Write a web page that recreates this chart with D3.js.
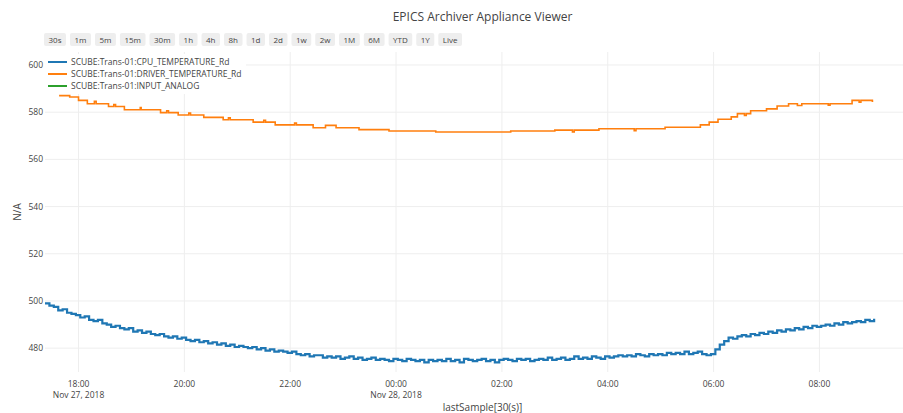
<!DOCTYPE html>
<html>
<head>
<meta charset="utf-8">
<script src="https://cdn.jsdelivr.net/npm/d3@7"></script>
<style>
  body { margin: 0; background: #fff; }
  svg { display: block; font-family: "Open Sans", verdana, arial, sans-serif; }
</style>
</head>
<body>
<script>
// ---- data ----
const chartTitle = "EPICS Archiver Appliance Viewer"
const buttons = ["30s","1m","5m","15m","30m","1h","4h","8h","1d","2d","1w","2w","1M","6M","YTD","1Y","Live"]
const seriesNames = ["SCUBE:Trans-01:CPU_TEMPERATURE_Rd","SCUBE:Trans-01:DRIVER_TEMPERATURE_Rd","SCUBE:Trans-01:INPUT_ANALOG"]
const seriesColors = ["#1f77b4","#ff7f0e","#2ca02c"]
const yTicks = [480,500,520,540,560,580,600]
const xTicks = ["2018-11-27T18:00","2018-11-27T20:00","2018-11-27T22:00","2018-11-28T00:00","2018-11-28T02:00","2018-11-28T04:00","2018-11-28T06:00","2018-11-28T08:00"]

// CPU temperature, one sample every 5 minutes from 17:22
const cpuStart = "2018-11-27T17:22"
const cpuStepMin = 5
const cpuValues = [
  499,498,497.5,496,496.5,495,494.5,494,
  493,493.5,492,491.5,492,490.5,490,489,489.5,488.5,488,488.5,
  487,487.5,486.5,487,486,485.5,486,485,484.5,485,484,484.5,
  483.5,483,483.5,482.5,483,482,482.5,481.5,482,481,481.5,480.5,
  481,480.5,480,480.5,479.5,480,479,479.5,478.5,479,478.5,478,
  478.5,477.5,477,477.5,476.5,477,477,476,476.5,476,476.5,475.5,
  476,476.5,475.5,476,475,475.5,476,475,475.5,475,474.5,475.5,
  475,474.5,475.5,475,474.5,475,474,475,474.5,475,474.5,475.5,
  474.5,475,474,475.5,475,474.5,475,475.5,474.5,475,474,475,
  475.5,475,474.5,475.5,475,475.5,474.5,475,475.5,475,476,475,
  475.5,476,475,475.5,476.5,475.5,476,475.5,476.5,476,475.5,476.5,
  476,476.5,477,476.5,477,476.5,477.5,477,476.5,477.5,477,477.5,
  477,478,477.5,478,477.5,478.5,477.5,478,478.5,477.5,477,477.5,
  479.5,481.5,483,484.5,484,485,485.5,485,486,485.5,486.5,486,
  487,486.5,487.5,487,488,487.5,488.5,488,489,488.5,489.5,489,
  489.5,490,489.5,490.5,490,491,490.5,491,491.5,491,492,491.5,
  492.5
]

// driver temperature, value changes (step)
const drvTimes = [
  "2018-11-27T17:38","2018-11-27T17:50","2018-11-27T18:00","2018-11-27T18:10","2018-11-27T18:18","2018-11-27T18:20",
  "2018-11-27T18:34","2018-11-27T18:40","2018-11-27T18:42","2018-11-27T18:52","2018-11-27T19:10","2018-11-27T19:11",
  "2018-11-27T19:33","2018-11-27T19:40","2018-11-27T19:42","2018-11-27T19:53","2018-11-27T20:05","2018-11-27T20:07",
  "2018-11-27T20:22","2018-11-27T20:44","2018-11-27T20:50","2018-11-27T20:52","2018-11-27T21:18","2018-11-27T21:30",
  "2018-11-27T21:32","2018-11-27T21:43","2018-11-27T22:05","2018-11-27T22:07","2018-11-27T22:26","2018-11-27T22:40",
  "2018-11-27T22:52","2018-11-27T23:18","2018-11-27T23:52","2018-11-28T00:45","2018-11-28T02:10","2018-11-28T03:00",
  "2018-11-28T03:20","2018-11-28T03:22","2018-11-28T03:50","2018-11-28T04:30","2018-11-28T04:32","2018-11-28T05:05",
  "2018-11-28T05:45","2018-11-28T05:55","2018-11-28T06:05","2018-11-28T06:20","2018-11-28T06:27","2018-11-28T06:35",
  "2018-11-28T06:37","2018-11-28T06:42","2018-11-28T07:00","2018-11-28T07:12","2018-11-28T07:25","2018-11-28T07:35",
  "2018-11-28T07:40","2018-11-28T08:10","2018-11-28T08:12","2018-11-28T08:37","2018-11-28T08:45","2018-11-28T08:47",
  "2018-11-28T09:00","2018-11-28T09:01"
]
const drvValues = [
  587,586.4,585,583.6,584.6,583.6,
  582.4,583.2,582.4,581,582,581,
  579.8,580.6,579.8,578.8,579.6,578.8,
  577.8,576.8,577.6,576.8,575.8,576.6,
  575.8,574.6,575.4,574.6,573.4,574.4,
  573.4,572.6,572,571.6,572,572.4,
  571.6,572.4,573,572.2,573,573.6,
  574.6,575.8,577,578,579.4,578.6,
  579.4,580.6,581.4,582.6,583.6,582.8,
  583.6,583,583.6,585,584.2,585,
  584.6,584.6
]

// ---- layout ----
const width = 903, height = 413
const plot = {left: 45, right: 920, top: 52, bottom: 372}
const parse = d3.timeParse("%Y-%m-%dT%H:%M")

const x = d3.scaleTime()
  .domain([parse("2018-11-27T17:22"), parse("2018-11-28T09:54")])
  .range([plot.left, plot.right])
const y = d3.scaleLinear()
  .domain([469.9, 605.5])
  .range([plot.bottom, plot.top])

const svg = d3.select("body").append("svg")
  .attr("width", width)
  .attr("height", height)

// grid
svg.append("g").selectAll("line").data(yTicks).enter().append("line")
  .attr("x1", plot.left).attr("x2", plot.right)
  .attr("y1", d => y(d)).attr("y2", d => y(d))
  .style("stroke", "#eee").style("stroke-width", 1)
svg.append("g").selectAll("line").data(xTicks).enter().append("line")
  .attr("x1", d => x(parse(d))).attr("x2", d => x(parse(d)))
  .attr("y1", plot.top).attr("y2", plot.bottom)
  .style("stroke", "#eee").style("stroke-width", 1)

// series
const t0 = parse(cpuStart)
const cpu = cpuValues.map((v, i) => ({t: new Date(+t0 + i*cpuStepMin*60000), v: v}))
const drv = drvValues.map((v, i) => ({t: parse(drvTimes[i]), v: v}))

const line = d3.line().x(d => x(d.t)).y(d => y(d.v)).curve(d3.curveStepAfter)

svg.append("clipPath").attr("id", "clip").append("rect")
  .attr("x", plot.left).attr("y", plot.top)
  .attr("width", plot.right - plot.left).attr("height", plot.bottom - plot.top)

const g = svg.append("g").attr("clip-path", "url(#clip)")
g.append("path").datum(cpu).attr("d", line)
  .style("fill", "none").style("stroke", seriesColors[0]).style("stroke-width", 2.2)
g.append("path").datum(drv).attr("d", line)
  .style("fill", "none").style("stroke", seriesColors[1]).style("stroke-width", 1.6)

// y axis labels
svg.append("g").selectAll("text").data(yTicks).enter().append("text")
  .attr("x", 43).attr("y", d => y(d) + 3)
  .attr("text-anchor", "end")
  .style("font-size", "8.5px").style("fill", "#444")
  .text(d => d)

// x axis labels
const fmtTime = d3.timeFormat("%H:%M")
const fmtDate = d3.timeFormat("%b %-d, %Y")
const xl = svg.append("g").selectAll("g").data(xTicks).enter().append("g")
  .attr("transform", d => `translate(${x(parse(d))},0)`)
xl.append("text").attr("y", 387).attr("text-anchor", "middle")
  .style("font-size", "8.5px").style("fill", "#444")
  .text(d => fmtTime(parse(d)))
xl.filter(d => fmtTime(parse(d)) == "18:00" || fmtTime(parse(d)) == "00:00")
  .append("text").attr("y", 397.5).attr("text-anchor", "middle")
  .style("font-size", "8.5px").style("fill", "#444")
  .text(d => fmtDate(parse(d)))

// axis titles
const cx = (plot.left + plot.right) / 2
svg.append("text").attr("x", cx).attr("y", 411).attr("text-anchor", "middle")
  .style("font-size", "10px").style("fill", "#444")
  .text("lastSample[30(s)]")
svg.append("text").attr("transform", `translate(21,${(plot.top + plot.bottom)/2}) rotate(-90)`)
  .attr("text-anchor", "middle")
  .style("font-size", "10px").style("fill", "#444")
  .text("N/A")

// title
svg.append("text").attr("x", cx).attr("y", 21).attr("text-anchor", "middle")
  .style("font-size", "12px").style("fill", "#444")
  .text(chartTitle)

// range selector buttons
let bx = 44
buttons.forEach(function(b){
  const bg = svg.append("g")
  const txt = bg.append("text").attr("y", 42.5)
    .style("font-size", "8px").style("fill", "#444")
    .text(b)
  const w = txt.node().getComputedTextLength() + 9
  bg.insert("rect", "text").attr("x", bx).attr("y", 33).attr("width", w).attr("height", 13)
    .attr("rx", 2).style("fill", "#eee")
  txt.attr("x", bx + w/2).attr("text-anchor", "middle")
  bx += w + 4
})

// legend
const leg = svg.append("g")
leg.append("rect").attr("x", plot.left).attr("y", 54).attr("width", 201).attr("height", 40)
  .style("fill", "#fff")
seriesNames.forEach(function(name, i){
  const ly = 62 + i*12
  leg.append("line").attr("x1", 48).attr("x2", 67).attr("y1", ly).attr("y2", ly)
    .style("stroke", seriesColors[i]).style("stroke-width", 2)
  leg.append("text").attr("x", 71).attr("y", ly + 3)
    .style("font-size", "8.5px").style("fill", "#444")
    .text(name)
})
</script>
</body>
</html>
